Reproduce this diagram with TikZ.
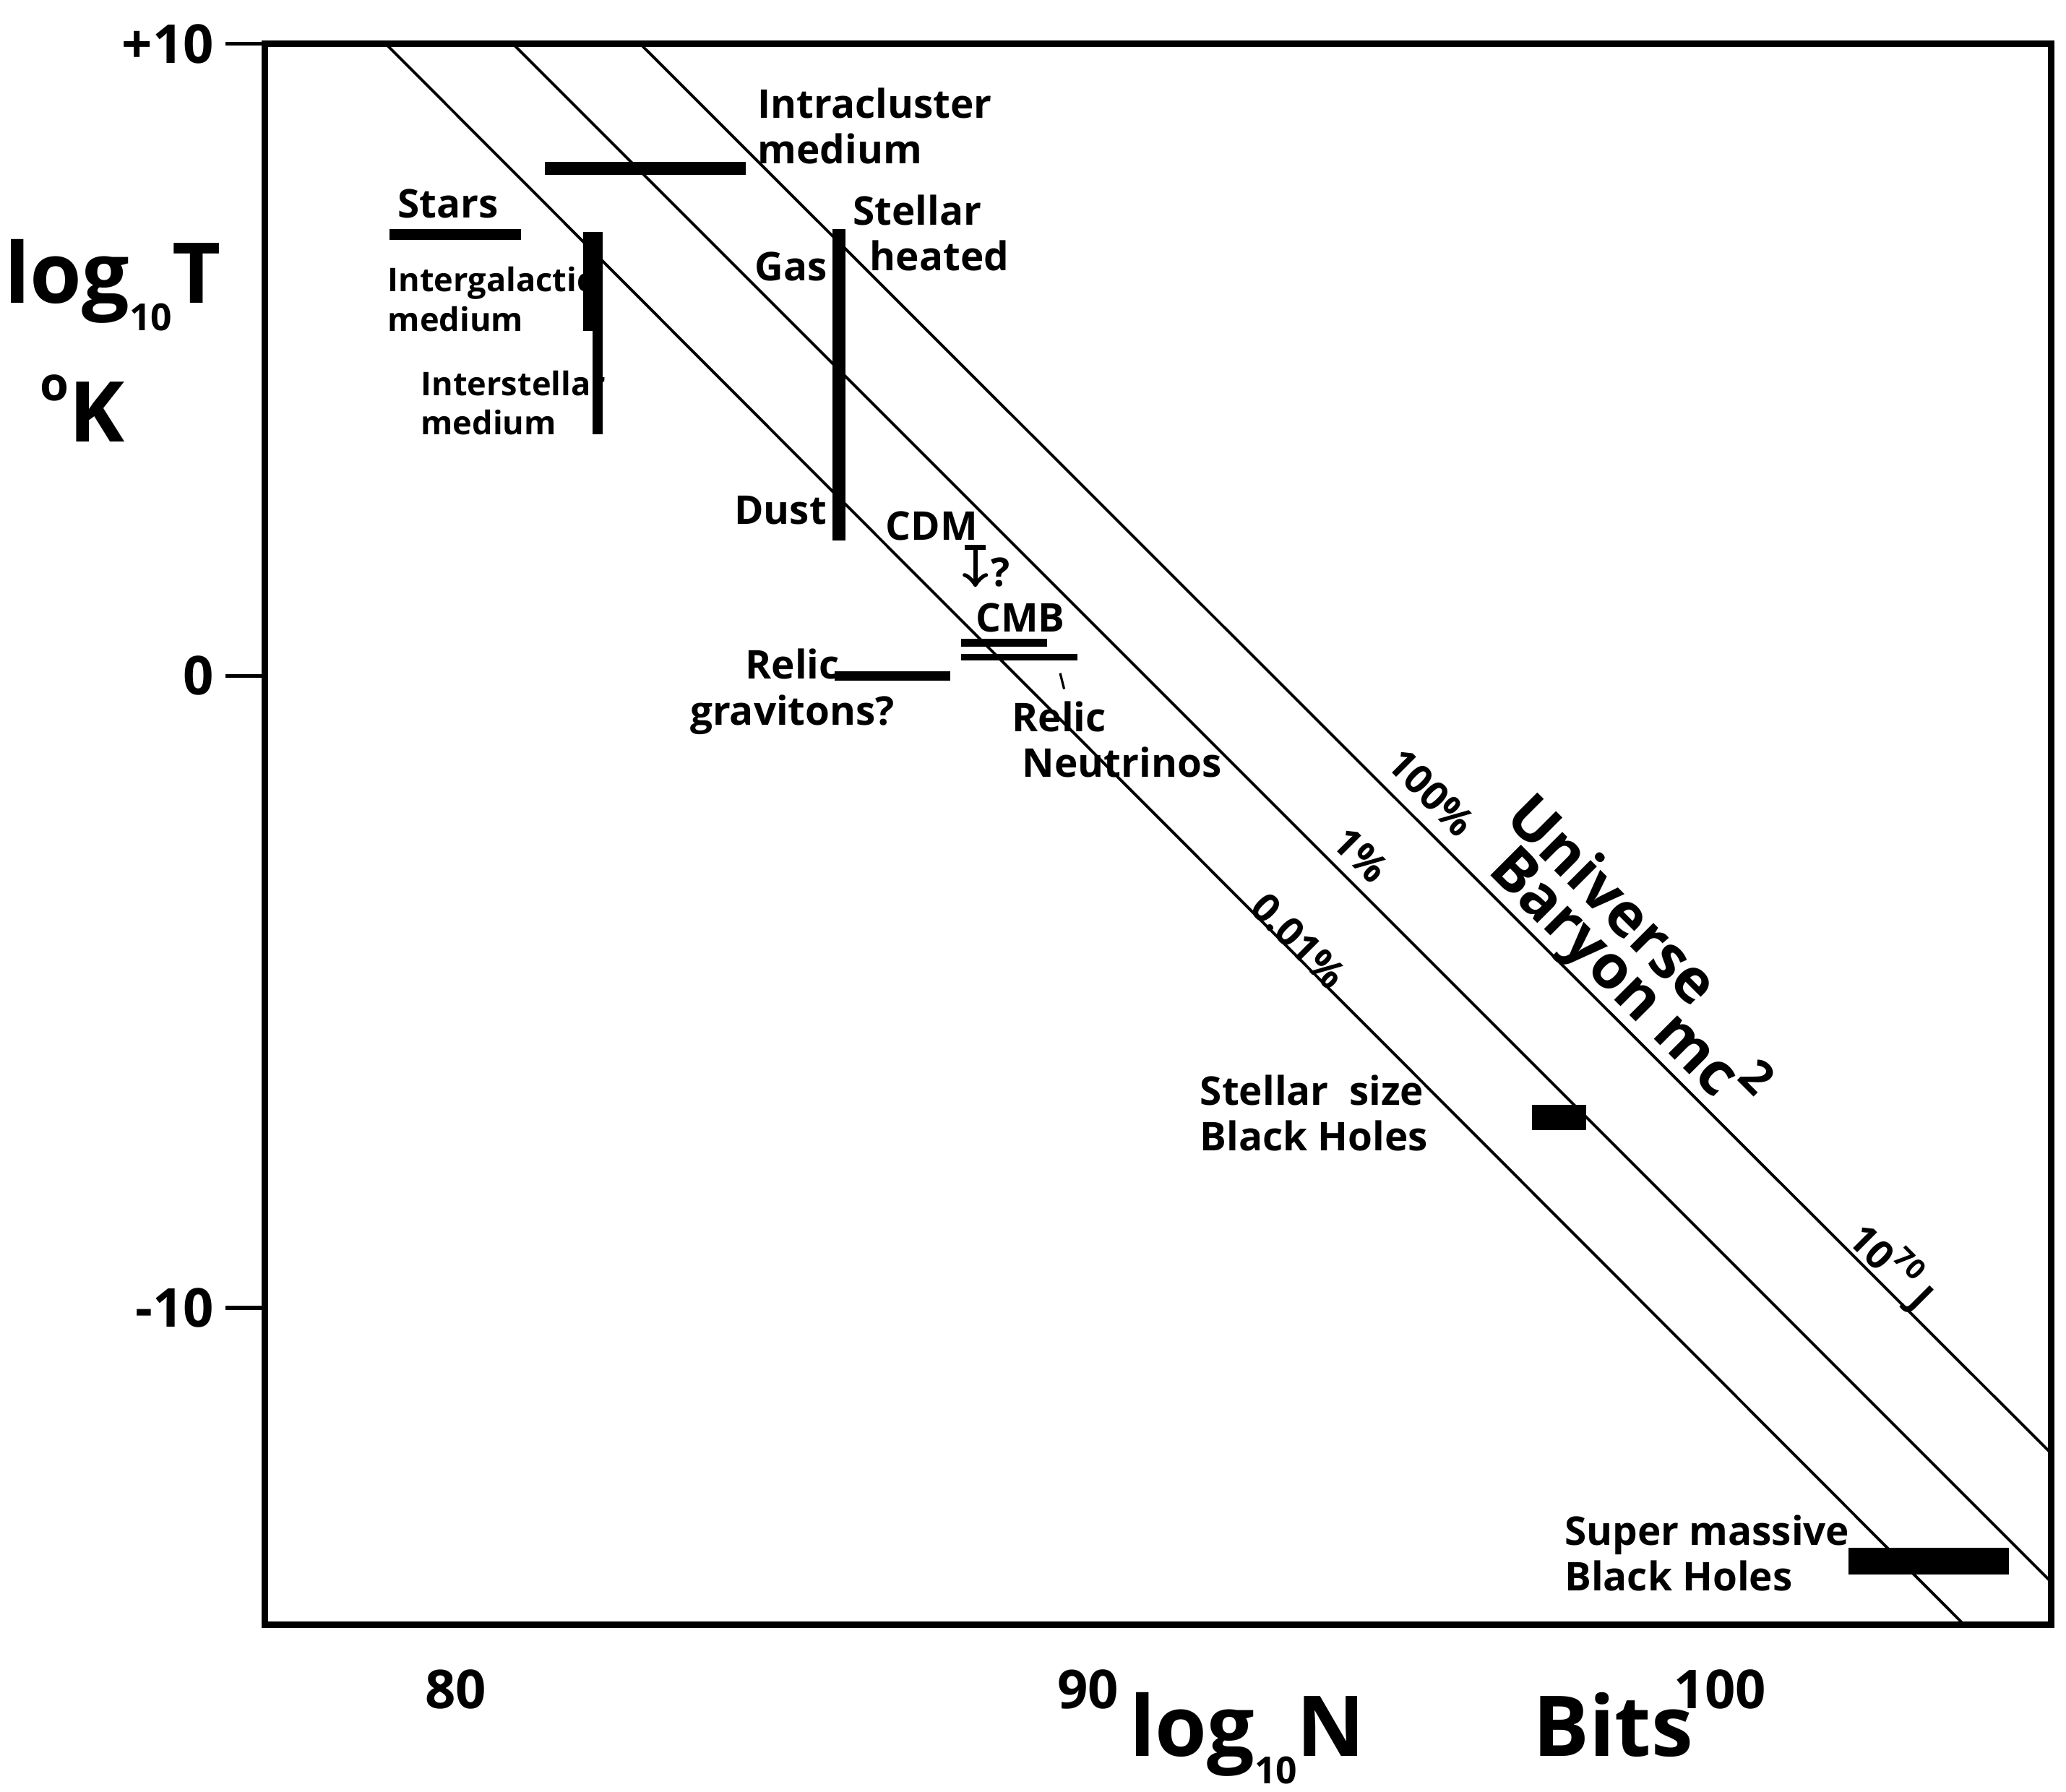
\documentclass[tikz,border=0pt]{standalone}
\usepackage{fontspec}
\setmainfont{Open Sans}
\newcommand{\mysub}[1]{\raisebox{-0.6ex}{\fontsize{8}{8}\selectfont #1}}
\newcommand{\mysup}[2]{\raisebox{0.9ex}{\fontsize{#1}{#1}\selectfont #2}}
\begin{document}
\begin{tikzpicture}[x=0.01cm,y=-0.01cm,
  lbl/.style={font=\bfseries\fontsize{8.5}{9.8}\selectfont,align=left,inner sep=0pt},
  sml/.style={font=\bfseries\fontsize{7}{8.5}\selectfont,align=left,inner sep=0pt},
  tick/.style={font=\bfseries\fontsize{11.5}{12}\selectfont,inner sep=0pt},
  big/.style={font=\bfseries\fontsize{18}{19}\selectfont,inner sep=0pt},
  bar/.style={line width=#1,line cap=butt}]
\useasboundingbox (0,0) rectangle (1559,1352);
\draw[line width=1.4pt] (200,33) rectangle (1548,1226);
% ticks
\foreach \y/\t in {33/+10,510/0,987/-10}{
  \draw[line width=0.8pt] (170,\y) -- (200,\y);
  \node[tick,anchor=east] at (162,\y) {\t};}
\foreach \x/\t in {344/80,821/90,1298/100}
  \node[tick] at (\x,1275) {\t};
% diagonals
\draw[line width=0.6pt] (291,33) -- (1482,1226);
\draw[line width=0.6pt] (387,33) -- (1548,1194);
\draw[line width=0.6pt] (483,33) -- (1548,1097);
% bars
\draw[bar=2.3pt] (294,177) -- (393,177);
\node[lbl] at (338,154) {Stars};
\draw[bar=2.8pt] (411,127) -- (563,127);
\node[lbl,anchor=west] at (571,95) {Intracluster\\medium};
\draw[bar=3.4pt] (446,175) -- (446,250);
\draw[bar=2.3pt] (451,175) -- (451,328);
\node[sml,anchor=west] at (292,226) {Intergalactic\\medium};
\node[sml,anchor=west] at (317,304) {Interstellar\\medium};
\draw[bar=2.8pt] (633,173) -- (633,408);
\node[lbl] at (597,201) {Gas};
\node[lbl] at (589,385) {Dust};
\node[lbl,anchor=west,align=left] at (643,176) {Stellar\\\ \,heated};
\node[lbl] at (703,397) {CDM};
\draw[line width=1pt,->] (736,413) -- (736,443);
\draw[line width=1pt] (728,413) -- (744,413);
\node[lbl] at (755,432) {?};
\node[lbl] at (770,466) {CMB};
\draw[bar=1.8pt] (725,485) -- (790,485);
\draw[bar=1.5pt] (725,496) -- (813,496);
\draw[bar=2pt] (630,510) -- (717,510);
\node[lbl,align=center] at (598,522) {Relic\\gravitons?};
\draw[line width=0.5pt] (800,508) -- (803,520);
\node[lbl,anchor=west,align=left] at (763,558) {Relic\\\ Neutrinos};
% rotated labels
\node[lbl,rotate=-45] at (1080,598) {100\%};
\node[lbl,rotate=-45] at (1027,645) {1\%};
\node[lbl,rotate=-45] at (980,710) {0.01\%};
\node[font=\bfseries\fontsize{13}{14}\selectfont,rotate=-45,inner sep=0pt] at (1218,678) {Universe};
\node[font=\bfseries\fontsize{13}{14}\selectfont,rotate=-45,inner sep=0pt] at (1228,738) {Baryon mc\mysup{10}{2}};
\node[lbl,rotate=-45] at (1428,955) {10\mysup{6}{70} J};
% black holes
\fill (1156,834) rectangle (1197,853);
\node[lbl,anchor=west] at (905,840) {Stellar\ \ size\\Black Holes};
\fill (1395,1168) rectangle (1516,1188);
\node[lbl,anchor=west] at (1180,1172) {Super massive\\Black Holes};
% axis labels
\node[big] at (85,215) {log\mysub{10}T};
\node[big] at (62,308) {\mysup{10}{o}K};
\node[big] at (1065,1312) {log\mysub{10}N\qquad Bits};
\end{tikzpicture}
\end{document}
